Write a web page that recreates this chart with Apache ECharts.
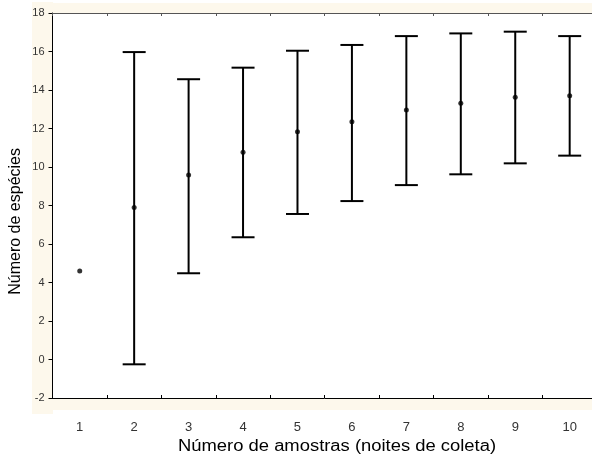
<!DOCTYPE html>
<html>
<head>
<meta charset="utf-8">
<script src="https://cdn.jsdelivr.net/npm/echarts@6/dist/echarts.min.js"></script>
<style>
html,body{margin:0;padding:0;background:#fff;overflow:hidden;}
#chart{width:604px;height:463px;}
</style>
</head>
<body>
<div id="chart"></div>
<script>
const categories = ['1','2','3','4','5','6','7','8','9','10'];
const means = [4.60, 7.89, 9.58, 10.76, 11.83, 12.35, 12.96, 13.31, 13.62, 13.70];
const upper = [null, 15.97, 14.56, 15.16, 16.04, 16.34, 16.80, 16.94, 17.03, 16.80];
const lower = [null, -0.25, 4.48, 6.35, 7.56, 8.23, 9.06, 9.62, 10.19, 10.59];
const yMin = -2, yMax = 18, yStep = 2;
const xTitle = 'Número de amostras (noites de coleta)';
const yTitle = 'Número de espécies';

const errData = [];
categories.forEach((c, i) => {
  if (upper[i] != null && lower[i] != null) errData.push([i, lower[i], upper[i]]);
});

const chart = echarts.init(document.getElementById('chart'), null, {renderer: 'canvas'});
const FONT = '"Liberation Sans", Arial, sans-serif';
const cream = '#fdf8ec';

chart.setOption({
  animation: false,
  backgroundColor: '#fff',
  graphic: [
    {type: 'rect', z: -10, shape: {x: 32, y: 2, width: 21, height: 412}, style: {fill: cream}},
    {type: 'rect', z: -10, shape: {x: 32, y: 3, width: 572, height: 10}, style: {fill: cream}},
    {type: 'rect', z: -10, shape: {x: 32, y: 399, width: 572, height: 11}, style: {fill: cream}},
    {type: 'text', z: 10, x: 178, y: 439, scaleX: 1.15, style: {text: xTitle, font: '16px ' + FONT, fill: '#000'}},
    {type: 'text', z: 10, left: 8, top: 148, rotation: Math.PI/2, style: {text: yTitle, font: '16px ' + FONT, fill: '#000'}}
  ],
  grid: {left: 52.5, top: 13, width: 544.4, height: 385, containLabel: false},
  xAxis: [
    {
      type: 'category', data: categories, boundaryGap: true, position: 'bottom',
      axisLine: {show: true, onZero: false, lineStyle: {color: '#000', width: 1}},
      axisTick: {show: true, inside: true, length: 3, alignWithLabel: false, lineStyle: {color: '#000'}},
      axisLabel: {color: '#333', fontSize: 13, fontFamily: 'Liberation Sans', margin: 23},
      splitLine: {show: false}
    },
    {
      type: 'category', data: categories, boundaryGap: true, position: 'top',
      axisLine: {show: true, onZero: false, lineStyle: {color: '#555', width: 1}},
      axisTick: {show: true, inside: true, length: 3, alignWithLabel: false, lineStyle: {color: '#555'}},
      axisLabel: {show: false},
      splitLine: {show: false}
    }
  ],
  yAxis: {
    type: 'value', min: yMin, max: yMax, interval: yStep,
    axisLine: {show: true, lineStyle: {color: '#000', width: 1}},
    axisTick: {show: true, inside: false, length: 4, lineStyle: {color: '#000'}},
    axisLabel: {color: '#333', fontSize: 11, fontFamily: 'Liberation Sans', margin: 8},
    splitLine: {show: false}
  },
  series: [
    {
      type: 'custom',
      xAxisIndex: 0,
      data: errData,
      renderItem: function (params, api) {
        const idx = api.value(0);
        const lo = api.coord([idx, api.value(1)]);
        const hi = api.coord([idx, api.value(2)]);
        const half = 11.5;
        const st = {stroke: '#000', lineWidth: 2};
        return {
          type: 'group',
          children: [
            {type: 'line', shape: {x1: lo[0], y1: lo[1], x2: hi[0], y2: hi[1]}, style: st},
            {type: 'line', shape: {x1: hi[0]-half, y1: hi[1], x2: hi[0]+half, y2: hi[1]}, style: st},
            {type: 'line', shape: {x1: lo[0]-half, y1: lo[1], x2: lo[0]+half, y2: lo[1]}, style: st}
          ]
        };
      }
    },
    {
      type: 'scatter',
      xAxisIndex: 0,
      data: means,
      symbol: 'circle',
      symbolSize: 5,
      itemStyle: {color: '#000'},
      z: 5
    }
  ]
});
</script>
</body>
</html>
